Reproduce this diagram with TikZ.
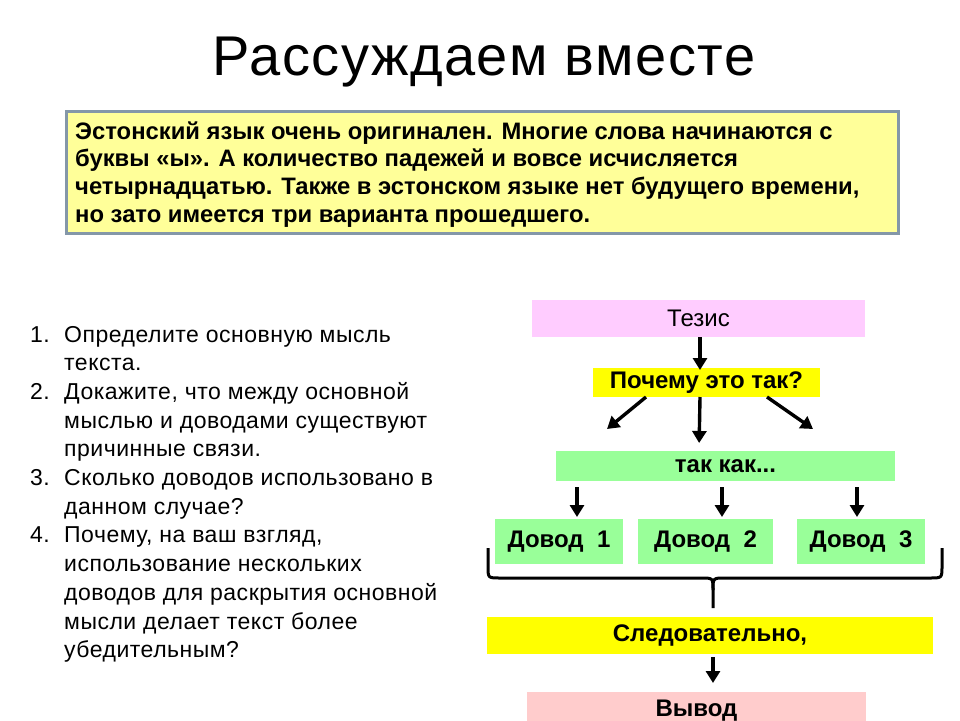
\documentclass[tikz,border=0pt]{standalone}
\usepackage{fontspec}
\setmainfont{Liberation Sans}
\newfontfamily\spacedfont[LetterSpace=2.2]{Liberation Sans}
\newfontfamily\titlefont[LetterSpace=2.6]{Liberation Sans}
\usetikzlibrary{arrows.meta}
\definecolor{infofill}{HTML}{FFFF99}
\definecolor{infoborder}{HTML}{8497A8}
\definecolor{thesisfill}{HTML}{FFCCFF}
\definecolor{yel}{HTML}{FFFF00}
\definecolor{grn}{HTML}{99FF99}
\definecolor{concl}{HTML}{FFCCCC}
\begin{document}
\begin{tikzpicture}[x=1pt,y=-1pt,
  flow/.style={inner sep=0pt, outer sep=0pt, font=\fontsize{24}{28}\selectfont\bfseries},
  arr/.style={line width=3.4pt, -{Triangle[width=14pt,length=12pt]}},
]
\useasboundingbox (0,0) rectangle (960,720);
\fill[white] (0,0) rectangle (960,720);

\node[anchor=base] (title) at (484,75) {\titlefont\fontsize{56}{60}\selectfont Рассуждаем вместе};

\node[draw=infoborder, line width=3pt, fill=infofill, anchor=north west,
      minimum width=832pt, minimum height=122pt, inner sep=0pt] (info) at (65,110) {};
\node[anchor=base west, inner sep=0pt, font=\fontsize{23.8}{27.7}\selectfont\bfseries] (infotext) at (75,139)
{\begin{tabular}[t]{@{}l@{}}
Эстонский язык очень оригинален. Многие слова начинаются с\\
буквы «ы». А количество падежей и вовсе исчисляется\\
четырнадцатью. Также в эстонском языке нет будущего времени,\\
но зато имеется три варианта прошедшего.
\end{tabular}};

\node[anchor=base west, inner sep=0pt, font=\spacedfont\fontsize{23}{28.7}\selectfont] (questions) at (30,342)
{\begin{tabular}[t]{@{}p{34pt}@{}l@{}}
1. & Определите основную мысль\\
   & текста.\\
2. & Докажите, что между основной\\
   & мыслью и доводами существуют\\
   & причинные связи.\\
3. & Сколько доводов использовано в\\
   & данном случае?\\
4. & Почему, на ваш взгляд,\\
   & использование нескольких\\
   & доводов для раскрытия основной\\
   & мысли делает текст более\\
   & убедительным?
\end{tabular}};

\node[flow, fill=thesisfill, minimum width=333pt, minimum height=37pt, font=\fontsize{24}{28}\selectfont] (thesis) at (698.5,318.5) {Тезис};
\node[flow, fill=yel, minimum width=227pt, minimum height=29pt] (why) at (706.5,382.5) {Почему это так?};
\node[flow, fill=grn, minimum width=339pt, minimum height=30pt] (because) at (725.5,466) {так как...};
\node[flow, fill=grn, minimum width=128pt, minimum height=45pt] (d1) at (559,541.5) {Довод\ \ 1};
\node[flow, fill=grn, minimum width=135pt, minimum height=45pt] (d2) at (705.5,541.5) {Довод\ \ 2};
\node[flow, fill=grn, minimum width=128pt, minimum height=45pt] (d3) at (861,541.5) {Довод\ \ 3};
\node[flow, fill=yel, minimum width=446pt, minimum height=37pt] (hence) at (710,635.5) {Следовательно,};
\node[flow, fill=concl, minimum width=339pt, anchor=north, text height=24pt, text depth=30pt] (result) at (696.5,692) {Вывод};

\coordinate (wl) at (607,429);
\coordinate (wr) at (813,429);

\draw[arr] (thesis.south -| 700,0) -- ([yshift=-2pt]why.north -| 700,0);
\draw[arr] (why.south -| 646,0) -- (wl);
\draw[arr, shorten >=8pt] (why.south -| 700,0) -- (because.north -| 699,0);
\draw[arr] (why.south -| 767,0) -- (wr);

\draw[arr, shorten <=6pt, shorten >=2pt] (because.south -| 577,0) -- (d1.north -| 577,0);
\draw[arr, shorten <=6pt, shorten >=2pt] (because.south -| 722,0) -- (d2.north -| 722,0);
\draw[arr, shorten <=6pt, shorten >=2pt] (because.south -| 857,0) -- (d3.north -| 857,0);

\draw[arr, shorten <=3pt, shorten >=9pt] (hence.south -| 713,0) -- (result.north -| 713,0);

\draw[line width=3pt]
  (488,548) -- (488,566) .. controls (488,578) .. (500,578) -- (701,578)
  .. controls (713,578) .. (713,590) -- (713,608);
\draw[line width=3pt]
  (942,548) -- (942,566) .. controls (942,578) .. (930,578) -- (725,578)
  .. controls (713,578) .. (713,590);
\end{tikzpicture}
\end{document}
